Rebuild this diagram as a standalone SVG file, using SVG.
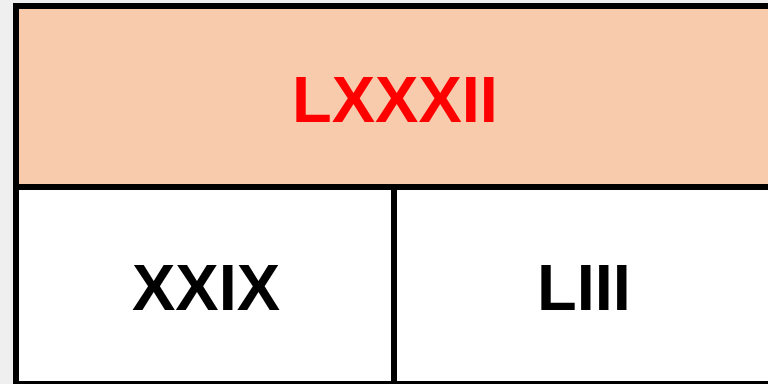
<svg xmlns="http://www.w3.org/2000/svg" width="768" height="384" viewBox="0 0 768 384">
<style>
.lbl{font-family:"Liberation Sans",Arial,sans-serif;font-weight:bold;font-size:65px;text-anchor:middle}
.edge{stroke:#000;stroke-width:6;fill:none}
</style>
<rect x="0" y="0" width="768" height="384" fill="#efefef"/>
<g id="node-top">
<rect x="16" y="6" width="760" height="181" fill="#f8cbad"/>
<text class="lbl" x="395" y="122" fill="#ff0000">LXXXII</text>
</g>
<g id="node-left">
<rect x="16" y="187" width="378" height="200" fill="#ffffff"/>
<text class="lbl" x="206" y="310" fill="#000000">XXIX</text>
</g>
<g id="node-right">
<rect x="394" y="187" width="382" height="200" fill="#ffffff"/>
<text class="lbl" x="584" y="310" fill="#000000">LIII</text>
</g>
<g id="connectors">
<rect class="edge" x="16" y="6" width="780" height="378"/>
<line class="edge" x1="16" y1="187" x2="776" y2="187"/>
<line class="edge" x1="394" y1="187" x2="394" y2="387"/>
</g>
</svg>
